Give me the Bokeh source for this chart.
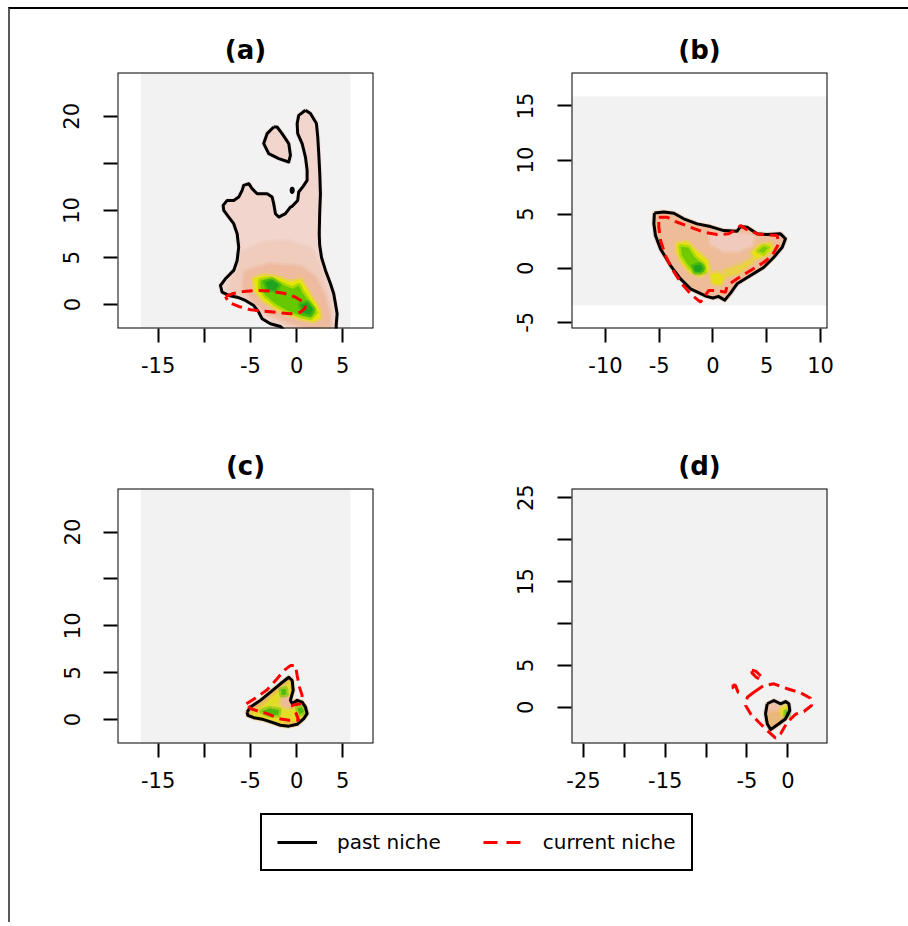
from bokeh.plotting import figure
from bokeh.layouts import column, row
from bokeh.models import Legend, LegendItem, FixedTicker, BoxAnnotation
from bokeh.embed import file_html
from bokeh.resources import INLINE

FONT = "DejaVu Sans"

# ---------------- data ----------------
TITLES = ["(a)", "(b)", "(c)", "(d)"]

# axis limits
A_XLIM = (-19.4, 8.33)
A_YLIM = (-2.55, 24.65)
B_XLIM = (-13.16, 10.65)
B_YLIM = (-5.57, 18.09)
C_XLIM = (-19.4, 8.33)
C_YLIM = (-2.55, 24.65)
D_XLIM = (-26.47, 4.85)
D_YLIM = (-4.33, 26.1)

# ticks and tick labels
A_XTICKS = [-15, -10, -5, 0, 5]
A_XLABELS = ["-15", "", "-5", "0", "5"]
A_YTICKS = [0, 5, 10, 15, 20]
A_YLABELS = ["0", "5", "10", "", "20"]
B_XTICKS = [-10, -5, 0, 5, 10]
B_XLABELS = ["-10", "-5", "0", "5", "10"]
B_YTICKS = [-5, 0, 5, 10, 15]
B_YLABELS = ["-5", "0", "5", "10", "15"]
D_XTICKS = [-25, -20, -15, -10, -5, 0]
D_XLABELS = ["-25", "", "-15", "", "-5", "0"]
D_YTICKS = [0, 5, 10, 15, 20, 25]
D_YLABELS = ["0", "5", "", "15", "", "25"]

# extent of the environmental space (left, right, bottom, top)
A_ENV = [-16.9, 5.84, -6.0, 30.0]
B_ENV = [-16.0, 14.0, -3.45, 15.87]
C_ENV = [-16.9, 5.84, -6.0, 30.0]
D_ENV = [-30.0, 8.0, -6.0, 30.0]

# ---- panel (a)
A_PAST = [(0.96, 20.64), (1.5, 20.29), (2.15, 19.22), (2.29, 17.8), (2.4, 16.03), (2.51, 13.9),
          (2.58, 11.78), (2.5, 9.65), (2.45, 7.5), (2.5, 6.3), (2.7, 5.0), (3.13, 3.62), (3.67, 2.2),
          (4.02, 1.14), (4.21, 0.07), (4.39, -0.99), (4.3, -2.05), (4.25, -3.2), (-0.8, -3.2),
          (-1.75, -2.34), (-2.83, -2.05), (-3.73, -1.52), (-4.1, -0.82), (-4.64, -0.11), (-5.54, 0.43),
          (-6.44, 0.78), (-7.35, 0.96), (-8.07, 1.31), (-8.25, 2.02), (-7.71, 2.73), (-6.81, 3.62),
          (-6.44, 4.68), (-6.27, 6.1), (-6.44, 7.52), (-6.81, 8.59), (-7.35, 9.29), (-7.89, 10.0),
          (-7.96, 10.53), (-7.52, 11.06), (-6.81, 11.06), (-6.27, 11.41), (-5.9, 12.13), (-5.73, 12.66),
          (-5.18, 12.84), (-4.82, 12.31), (-4.27, 11.77), (-3.19, 11.77), (-2.65, 11.41), (-2.48, 10.71),
          (-2.29, 9.65), (-1.93, 9.29), (-1.21, 9.65), (-0.67, 10.35), (-0.48, 10.43), (0.12, 11.06),
          (0.23, 11.95), (0.71, 12.55), (1.14, 13.19), (1.14, 14.26), (0.96, 15.67), (0.6, 17.1),
          (0.12, 18.16), (0.06, 19.22), (0.23, 20.1)]
A_ISLAND = [(-2.48, 18.86), (-3.19, 18.16), (-3.56, 17.1), (-3.02, 16.03), (-1.93, 15.5), (-0.85, 15.14),
            (-0.67, 15.85), (-0.85, 17.1), (-1.57, 18.16), (-2.11, 18.86)]
A_SPOT_X = [-0.48]
A_SPOT_Y = [12.13]
A_CURRENT = [(-7.71, 0.85), (-6.98, 1.14), (-5.73, 1.38), (-4.27, 1.49), (-2.83, 1.42), (-1.39, 1.2),
             (-0.12, 0.78), (0.78, 0.24), (0.96, -0.35), (0.42, -0.82), (-0.67, -0.99), (-2.11, -0.85),
             (-3.56, -0.71), (-5.0, -0.56), (-6.27, -0.21), (-7.35, 0.24)]
A_SALMON_LIGHT = [(-6.0, 5.5), (-4.0, 6.5), (-1.0, 6.8), (1.5, 6.0), (2.3, 4.5), (3.0, 2.5), (3.6, 0.5),
                  (3.9, -1.5), (3.8, -2.8), (0.0, -2.8), (-2.5, -1.6), (-4.0, -0.3), (-5.8, 0.9),
                  (-7.3, 1.6), (-7.2, 2.6), (-6.3, 3.8)]
A_SALMON = [(-5.6, 3.5), (-3.0, 4.3), (0.5, 4.0), (2.0, 2.9), (3.0, 1.0), (3.5, -0.8), (3.6, -2.3),
            (1.5, -2.6), (-1.0, -1.8), (-3.2, -0.9), (-4.8, 0.4), (-5.8, 1.9)]
A_YELLOW = [(-4.64, 2.73), (-3.56, 3.09), (-2.11, 2.9), (-0.67, 2.37), (0.42, 2.63), (0.96, 1.84),
            (1.68, 0.6), (2.4, -0.46), (2.58, -1.35), (1.86, -1.77), (0.6, -1.52), (-0.85, -0.99),
            (-2.29, -0.35), (-3.56, 0.43), (-4.46, 1.49)]
A_GREEN = [(-3.92, 2.55), (-2.83, 2.73), (-1.75, 2.2), (-0.48, 1.67), (0.23, 2.02), (0.6, 1.31),
           (1.5, 0.07), (2.04, -0.82), (1.5, -1.41), (0.42, -1.17), (-1.03, -0.64), (-2.29, 0.07),
           (-3.37, 0.96), (-3.92, 1.84)]
A_CORE1 = [(-3.4, 2.4), (-2.6, 2.6), (-1.9, 2.1), (-2.3, 1.5), (-3.1, 1.6)]
A_CORE2 = [(0.4, 0.0), (1.2, 0.2), (1.8, -0.5), (1.5, -1.1), (0.7, -0.9)]

# ---- panel (b)
B_PAST = [(-5.45, 5.1), (-4.57, 5.2), (-3.64, 5.08), (-2.72, 4.57), (-1.47, 4.1), (-0.23, 3.85),
          (1.0, 3.48), (2.24, 3.42), (2.56, 3.85), (3.18, 3.79), (4.11, 3.18), (5.04, 3.11), (6.28, 3.18),
          (6.74, 2.72), (6.44, 1.94), (5.66, 1.02), (4.73, 0.09), (3.49, -0.67), (2.24, -1.44),
          (1.63, -2.3), (1.1, -2.95), (0.5, -2.6), (0.0, -2.75), (-0.6, -2.6), (-1.1, -2.37),
          (-2.09, -1.9), (-3.02, -0.98), (-3.95, 0.25), (-4.88, 1.79), (-5.35, 3.02), (-5.5, 4.1)]
B_CURRENT = [(-5.04, 4.71), (-4.26, 4.71), (-3.33, 4.25), (-2.09, 3.79), (-0.86, 3.33), (0.39, 3.11),
             (1.47, 3.18), (2.24, 3.64), (2.56, 3.95), (3.02, 3.64), (4.2, 3.15), (5.97, 3.02),
             (6.12, 2.26), (5.5, 1.17), (4.73, 0.55), (3.49, -0.21), (2.24, -0.98), (1.32, -1.6),
             (1.16, -2.22), (0.39, -2.06), (-0.39, -2.06), (-0.86, -2.68), (-1.16, -3.14), (-2.09, -2.37),
             (-3.02, -1.29), (-3.8, -0.06), (-4.42, 1.17), (-4.88, 2.56), (-5.04, 3.79)]
B_PINK = [(-0.3, 3.3), (1.0, 3.2), (2.4, 3.2), (3.8, 3.0), (3.6, 2.2), (2.4, 1.6), (1.0, 1.6), (-0.2, 2.3)]
B_YELLOW_L = [(-3.33, 2.26), (-2.4, 2.41), (-1.63, 1.64), (-0.54, 0.71), (-0.39, -0.21), (-1.16, -0.67),
              (-2.09, -0.37), (-2.87, 0.55), (-3.33, 1.48)]
B_YELLOW_B = [(-0.2, -0.6), (0.5, -0.4), (1.0, -0.9), (0.7, -1.5), (0.0, -1.4)]
B_YELLOW_R = [(3.6, 1.4), (4.3, 2.1), (5.3, 2.3), (5.6, 1.8), (4.9, 1.2), (4.0, 0.9)]
B_YELLOW_M = [(1.0, -0.2), (2.5, 0.3), (3.8, 1.0), (3.7, 0.5), (2.3, -0.5), (1.1, -0.8)]
B_GREEN_L = [(-3.0, 2.0), (-2.3, 1.9), (-1.7, 1.0), (-0.9, 0.3), (-0.8, -0.35), (-1.6, -0.45),
             (-2.3, 0.3), (-2.9, 1.2)]
B_GREEN_R = [(4.2, 1.6), (4.7, 2.0), (5.1, 1.9), (4.7, 1.4)]
B_CORE = [(-1.8, 0.2), (-1.2, 0.35), (-0.9, 0.0), (-1.2, -0.35), (-1.7, -0.3)]

# ---- panel (c)
C_PAST = [(-5.36, 0.81), (-5.0, 1.34), (-3.92, 2.05), (-2.83, 2.93), (-1.75, 3.82), (-0.85, 4.52),
          (-0.48, 4.17), (-0.37, 3.11), (-0.67, 2.05), (-0.48, 1.7), (0.06, 2.05), (0.6, 1.87),
          (0.96, 1.34), (1.14, 0.64), (0.78, 0.11), (0.06, -0.5), (-0.85, -0.7), (-1.75, -0.6),
          (-2.65, -0.3), (-3.56, 0.0), (-4.64, 0.2), (-5.29, 0.46)]
C_CURRENT = [(-5.43, 1.7), (-4.46, 2.29), (-3.19, 3.18), (-2.11, 4.35), (-1.39, 5.23), (-0.67, 5.76),
             (-0.12, 5.76), (0.06, 4.7), (0.31, 3.46), (0.6, 2.58), (0.42, 1.7), (-0.48, 1.52),
             (-0.12, 0.81), (0.23, -0.07), (-0.85, -0.07), (-1.93, 0.11), (-3.19, 0.64), (-4.1, 0.88),
             (-5.0, 1.17)]
C_YELLOW = [(-4.8, 0.65), (-3.6, 1.5), (-2.4, 2.6), (-1.3, 3.5), (-0.75, 3.9), (-0.6, 2.6), (-1.4, 1.7),
            (-0.6, 1.0), (0.3, 1.5), (0.8, 0.8), (0.3, -0.1), (-1.5, -0.3), (-3.0, 0.0), (-4.5, 0.3)]
C_PINK = [(-1.6, 2.3), (-0.75, 2.4), (-0.35, 1.7), (-1.0, 1.25), (-1.7, 1.6)]
C_GREEN1 = [(-1.7, 3.2), (-1.2, 3.3), (-1.1, 2.7), (-1.6, 2.6)]
C_GREEN2 = [(-3.8, 0.9), (-2.9, 1.2), (-1.9, 1.0), (-2.0, 0.5), (-3.1, 0.5)]
C_GREEN3 = [(0.1, 1.2), (0.6, 1.3), (0.8, 0.8), (0.3, 0.6)]

# ---- panel (d)
D_PAST = [(-2.52, 0.41), (-1.71, 0.8), (-0.89, 0.41), (-0.28, 0.68), (0.12, 0.41), (0.24, -0.39),
          (-0.28, -1.38), (-1.1, -1.98), (-1.71, -2.39), (-2.11, -2.66), (-2.52, -1.98), (-2.73, -0.79),
          (-2.6, 0.0)]
D_CURRENT_MAIN = [(-4.16, 1.79), (-2.93, 2.59), (-1.71, 2.79), (-0.07, 2.2), (1.55, 1.72), (2.78, 1.07),
                  (2.9, 0.2), (1.96, -0.51), (0.94, -0.84), (-0.07, -1.79), (-0.89, -3.17), (-1.5, -3.7),
                  (-2.52, -2.78), (-3.55, -1.79), (-4.56, -0.79), (-5.17, 0.2), (-4.96, 1.19)]
D_CURRENT_SMALL1 = [(-4.4, 4.4), (-3.9, 4.3), (-3.2, 3.6), (-3.3, 3.3), (-3.9, 3.6), (-4.4, 4.1)]
D_CURRENT_SMALL2 = [(-6.7, 2.7), (-6.4, 2.6), (-6.1, 1.8), (-6.4, 1.7), (-6.7, 2.3)]
D_TAN = [(-2.6, -0.8), (-1.5, -0.5), (-0.5, -0.6), (-0.3, -1.4), (-1.1, -2.0), (-2.1, -2.6), (-2.5, -1.9)]
D_YELLOW = [(-0.9, -0.2), (-0.3, 0.3), (0.2, -0.2), (-0.2, -1.0), (-0.8, -0.9)]
D_GREEN = [(-0.25, -0.55), (0.1, -0.55), (0.1, -0.95), (-0.25, -0.95)]

LEGEND_LABELS = ["past niche", "current niche"]

# ---------------- styles ----------------
BG = "#F2F2F2"
PINK = "#F2D6CE"
SALMON_LIGHT = "#F0CCBC"
SALMON = "#EEBB9F"
PEACH = "#EEBC98"
TAN = "#EAB466"
YELLOW = "#E6E600"
GREEN = "#66C800"
DKGREEN = "#1EA41E"
LW = 3


def xy(pts, close=False):
    xs = [q[0] for q in pts]
    ys = [q[1] for q in pts]
    if close:
        xs.append(xs[0])
        ys.append(ys[0])
    return xs, ys


def panel(title, xlim, ylim, xticks, xlabels, yticks, ylabels, env, layers, past, current,
          w, h, bl, br, bt, bb):
    p = figure(width=w, height=h, x_range=xlim, y_range=ylim, title=title,
               output_backend="svg", toolbar_location=None,
               min_border_left=bl, min_border_right=br, min_border_top=bt, min_border_bottom=bb)
    p.grid.visible = False
    p.background_fill_color = "white"
    p.border_fill_color = "white"
    p.outline_line_color = None
    p.title.text_font = FONT
    p.title.text_font_size = "26px"
    p.title.text_font_style = "bold"
    p.title.text_color = "black"
    p.title.align = "center"
    p.title.standoff = 15

    p.quad(left=[env[0]], right=[env[1]], bottom=[env[2]], top=[env[3]],
           fill_color=BG, line_color=None)
    for pts, color, alpha in layers:
        xs, ys = xy(pts)
        p.patch(xs, ys, fill_color=color, fill_alpha=alpha, line_color=color,
                line_alpha=0.45 * alpha, line_width=5, line_join="round")
    for pts in past:
        xs, ys = xy(pts, True)
        p.line(xs, ys, line_color="black", line_width=LW, line_join="round")
    for pts in current:
        xs, ys = xy(pts, True)
        p.line(xs, ys, line_color="#FF0000", line_width=LW, line_dash="11 6")

    p.add_layout(BoxAnnotation(fill_alpha=0, line_color="black", line_width=2, line_alpha=1))

    p.xaxis.ticker = FixedTicker(ticks=xticks)
    p.yaxis.ticker = FixedTicker(ticks=yticks)
    p.xaxis.major_label_overrides = {t: s for t, s in zip(xticks, xlabels)}
    p.yaxis.major_label_overrides = {t: s for t, s in zip(yticks, ylabels)}
    for ax in (p.xaxis[0], p.yaxis[0]):
        ax.axis_line_color = None
        ax.major_tick_out = 14
        ax.major_tick_in = 0
        ax.major_tick_line_width = 2
        ax.major_tick_line_color = "black"
        ax.minor_tick_line_color = None
        ax.major_label_text_font = FONT
        ax.major_label_text_font_size = "21px"
        ax.major_label_text_color = "black"
    p.xaxis.major_label_standoff = 14
    p.yaxis.major_label_standoff = 24
    p.yaxis.major_label_orientation = "vertical"
    return p


pa = panel(TITLES[0], A_XLIM, A_YLIM, A_XTICKS, A_XLABELS, A_YTICKS, A_YLABELS, A_ENV,
           [(A_PAST, PINK, 1.0), (A_ISLAND, PINK, 1.0), (A_SALMON_LIGHT, SALMON_LIGHT, 1.0),
            (A_SALMON, SALMON, 1.0), (A_YELLOW, YELLOW, 1.0), (A_GREEN, GREEN, 1.0),
            (A_CORE1, DKGREEN, 1.0), (A_CORE2, DKGREEN, 1.0)],
           [A_PAST, A_ISLAND], [A_CURRENT],
           454, 407, 107, 91, 63, 88)
pa.ellipse(x=A_SPOT_X, y=A_SPOT_Y, width=0.45, height=0.7, fill_color="black", line_color="black")

pb = panel(TITLES[1], B_XLIM, B_YLIM, B_XTICKS, B_XLABELS, B_YTICKS, B_YLABELS, B_ENV,
           [(B_PAST, PEACH, 1.0), (B_PINK, "#F0CBBD", 1.0), (B_YELLOW_M, YELLOW, 0.45),
            (B_YELLOW_L, YELLOW, 0.9), (B_YELLOW_B, YELLOW, 0.8), (B_YELLOW_R, YELLOW, 0.8),
            (B_GREEN_L, GREEN, 0.9), (B_GREEN_R, GREEN, 0.8), (B_CORE, DKGREEN, 1.0)],
           [B_PAST], [B_CURRENT],
           440, 407, 107, 77, 63, 88)

pc = panel(TITLES[2], C_XLIM, C_YLIM, A_XTICKS, A_XLABELS, A_YTICKS, A_YLABELS, C_ENV,
           [(C_PAST, TAN, 1.0), (C_YELLOW, "#E2E31E", 0.85), (C_PINK, SALMON, 1.0),
            (C_GREEN1, "#4DBA0E", 1.0), (C_GREEN2, "#4DBA0E", 1.0), (C_GREEN3, "#4DBA0E", 1.0)],
           [C_PAST], [C_CURRENT],
           454, 390, 107, 91, 72, 63)

pd = panel(TITLES[3], D_XLIM, D_YLIM, D_XTICKS, D_XLABELS, D_YTICKS, D_YLABELS, D_ENV,
           [(D_PAST, "#EEC0A8", 1.0), (D_TAN, "#EAB878", 1.0), (D_YELLOW, YELLOW, 0.7),
            (D_GREEN, "#20A820", 1.0)],
           [D_PAST], [D_CURRENT_MAIN, D_CURRENT_SMALL1, D_CURRENT_SMALL2],
           440, 390, 107, 77, 72, 63)

# legend strip
leg = figure(width=898, height=116, x_range=(0, 1), y_range=(0, 1), x_axis_type=None, y_axis_type=None,
             toolbar_location=None, output_backend="svg", min_border=0)
leg.outline_line_color = None
leg.grid.visible = False
r1 = leg.line(x=[5, 6], y=[5, 6], line_color="black", line_width=LW)
r2 = leg.line(x=[5, 6], y=[5, 6], line_color="#FF0000", line_width=LW, line_dash="14 9")
legend = Legend(items=[LegendItem(label=LEGEND_LABELS[0], renderers=[r1]),
                       LegendItem(label=LEGEND_LABELS[1], renderers=[r2])],
                orientation="horizontal", location=(250, 51))
legend.border_line_color = "black"
legend.border_line_width = 2
legend.border_line_alpha = 1.0
legend.background_fill_color = "white"
legend.background_fill_alpha = 1.0
legend.padding = 15
legend.spacing = 42
legend.margin = 0
legend.glyph_width = 40
legend.glyph_height = 20
legend.label_standoff = 20
legend.label_height = 24
legend.label_text_font = FONT
legend.label_text_font_size = "20px"
legend.label_text_color = "black"
leg.add_layout(legend, "center")

root = column(row(pa, pb), row(pc, pd), leg,
              styles={"margin-left": "8px", "margin-top": "7px",
                      "border-top": "2px solid black", "border-left": "2px solid #5a5a5a"})

open("out.html", "w").write(file_html(root, INLINE))
